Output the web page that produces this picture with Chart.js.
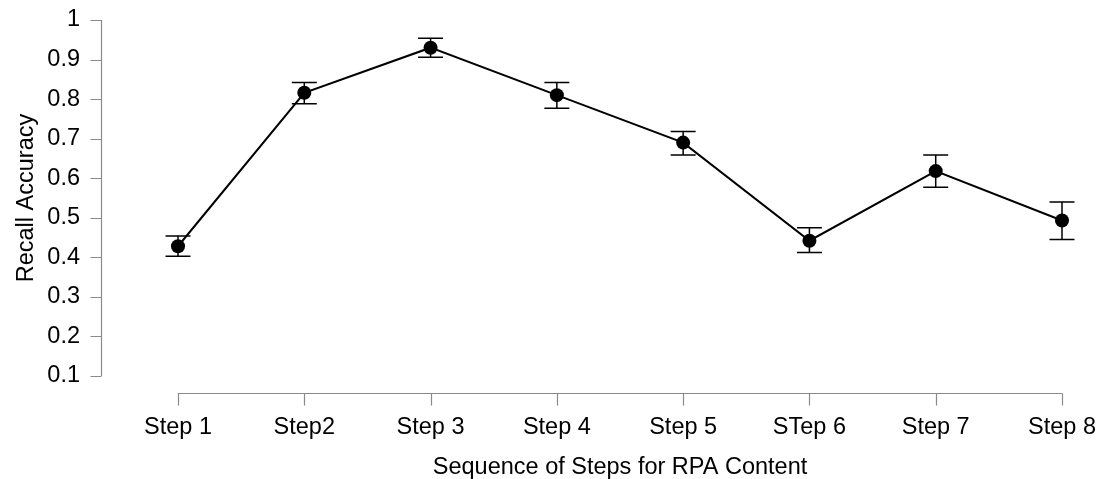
<!DOCTYPE html>
<html>
<head>
<meta charset="utf-8">
<script src="https://cdn.jsdelivr.net/npm/chart.js@4/dist/chart.umd.min.js"></script>
<style>
  html, body { margin: 0; padding: 0; background: #fff; }
  #wrap { width: 1106px; height: 479px; position: relative; }
</style>
</head>
<body>
<div id="wrap"><canvas id="recallChart"></canvas></div>
<script>
const steps = ["Step 1", "Step2", "Step 3", "Step 4", "Step 5", "STep 6", "Step 7", "Step 8"];
const recallMean = [0.428, 0.816, 0.930, 0.810, 0.690, 0.442, 0.618, 0.493];
const errLow = [0.403, 0.788, 0.906, 0.777, 0.659, 0.412, 0.577, 0.445];
const errHigh = [0.454, 0.842, 0.954, 0.842, 0.718, 0.475, 0.659, 0.540];
const yTicks = [0.1, 0.2, 0.3, 0.4, 0.5, 0.6, 0.7, 0.8, 0.9, 1];

const FONT = "'Liberation Sans', Arial, sans-serif";
const axisGray = "#8a8a8a";

// barras de error + ejes separados al estilo R
const errorBars = {
  id: "errorBars",
  beforeDatasetsDraw(chart) {
    const {ctx, scales: {x, y}} = chart;
    ctx.save();
    ctx.strokeStyle = "#000";
    ctx.lineWidth = 1.5;
    steps.forEach((_, i) => {
      const px = x.getPixelForValue(i);
      const top = y.getPixelForValue(errHigh[i]);
      const bot = y.getPixelForValue(errLow[i]);
      ctx.beginPath();
      ctx.moveTo(px, top); ctx.lineTo(px, bot);
      ctx.moveTo(px - 12.5, top); ctx.lineTo(px + 12.5, top);
      ctx.moveTo(px - 12.5, bot); ctx.lineTo(px + 12.5, bot);
      ctx.stroke();
    });
    ctx.restore();
  },
  afterDraw(chart) {
    const {ctx, scales: {x, y}} = chart;
    ctx.save();
    ctx.strokeStyle = axisGray;
    ctx.lineWidth = 1.2;
    const ax = 101.5;
    const yTop = y.getPixelForValue(1), yBot = y.getPixelForValue(0.1);
    ctx.beginPath();
    ctx.moveTo(ax, yTop); ctx.lineTo(ax, yBot);
    yTicks.forEach(t => {
      const py = Math.round(y.getPixelForValue(t)) + 0.5;
      ctx.moveTo(ax - 11, py); ctx.lineTo(ax, py);
    });
    const ay = 393.5;
    const xL = x.getPixelForValue(0), xR = x.getPixelForValue(steps.length - 1);
    ctx.moveTo(xL, ay); ctx.lineTo(xR, ay);
    steps.forEach((_, i) => {
      const px = Math.round(x.getPixelForValue(i)) + 0.5;
      ctx.moveTo(px, ay); ctx.lineTo(px, ay + 12);
    });
    ctx.stroke();
    ctx.restore();
  }
};

new Chart(document.getElementById("recallChart"), {
  type: "line",
  data: {
    labels: steps,
    datasets: [{
      label: "Recall Accuracy",
      data: recallMean,
      borderColor: "#000",
      borderWidth: 2,
      backgroundColor: "#000",
      pointBackgroundColor: "#000",
      pointBorderColor: "#000",
      pointRadius: 7,
      pointBorderWidth: 0,
      tension: 0
    }]
  },
  options: {
    responsive: true,
    maintainAspectRatio: false,
    animation: false,
    layout: {padding: {left: 0, right: 44, top: 20, bottom: 0}},
    plugins: {legend: {display: false}, tooltip: {enabled: false}},
    scales: {
      x: {
        offset: false,
        grid: {display: false, drawTicks: true, tickLength: 37},
        border: {display: false},
        ticks: {color: "#000", padding: 0, maxRotation: 0, autoSkip: false, font: {family: FONT, size: 23.5}},
        title: {display: true, text: "Sequence of Steps for RPA Content", color: "#000", padding: {top: 0, bottom: 0}, font: {family: FONT, size: 23.5, lineHeight: 1}},
        afterFit: s => { s.height = 103; }
      },
      y: {
        min: 0.1,
        max: 1,
        afterBuildTicks: s => { s.ticks = yTicks.map(v => ({value: v})); },
        grid: {display: false, drawTicks: true, tickLength: 98},
        border: {display: false},
        ticks: {color: "#000", padding: 0, font: {family: FONT, size: 23.5}, callback: v => String(Math.round(v * 10) / 10)},
        title: {display: true, text: "Recall Accuracy", color: "#000", padding: {top: 12, bottom: 0}, font: {family: FONT, size: 23.5}},
        afterFit: s => { s.width = 178; }
      }
    }
  },
  plugins: [errorBars]
});
</script>
</body>
</html>
